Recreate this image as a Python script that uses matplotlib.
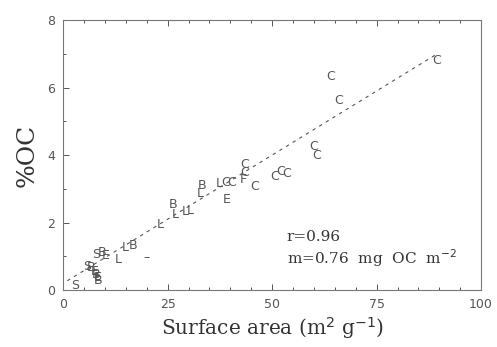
import matplotlib
matplotlib.use("Agg")
import matplotlib.pyplot as plt
import numpy as np

# Surface area (m2/g) vs organic carbon (%), one letter per sample group
S_x = [2.9, 5.8, 8.0]
S_y = [0.15, 0.70, 1.05]
B_x = [6.8, 9.3, 8.0, 8.3, 16.8, 26.4, 33.2]
B_y = [0.68, 1.10, 0.45, 0.28, 1.33, 2.55, 3.10]
E_x = [10.3, 7.5, 8.2, 39.2]
E_y = [1.03, 0.55, 0.36, 2.67]
L_x = [13.2, 14.8, 23.2, 26.8, 29.2, 30.4, 32.8, 37.4]
L_y = [0.90, 1.25, 1.95, 2.25, 2.32, 2.35, 2.85, 3.16]
F_x = [43.1]
F_y = [3.28]
D_x = [20.0]
D_y = [0.97]
C_x = [38.8, 40.3, 43.5, 43.5, 45.9, 50.5, 52.0, 53.5, 59.9, 60.7, 63.9, 65.9, 89.4]
C_y = [3.18, 3.20, 3.72, 3.48, 3.06, 3.38, 3.50, 3.45, 4.25, 4.00, 6.32, 5.63, 6.81]

# fit: r = 0.96, slope 0.76 mg OC per m2 -> 0.076 % per (m2/g)
slope = 0.076
intercept = 0.2
fit_x = np.array([1.0, 89.0])

grey = "#555555"

fig = plt.figure(figsize=(4.97, 3.47), dpi=100)
ax = fig.add_axes([0.127, 0.164, 0.841, 0.778])

# letters as plot symbols, placed in data coordinates
groups = [("S", S_x, S_y), ("B", B_x, B_y), ("E", E_x, E_y), ("L", L_x, L_y),
          ("F", F_x, F_y), ("\u2013", D_x, D_y), ("C", C_x, C_y)]
for letter, xs, ys in groups:
    for x, y in zip(xs, ys):
        ax.text(x, y, letter, ha="center", va="center", fontsize=9,
                color=grey, zorder=3)

ax.plot(fit_x, slope * fit_x + intercept, color=grey, lw=0.8,
        dashes=(3, 4), zorder=2)

ax.set_xlim(0, 100)
ax.set_ylim(0, 8)
ax.set_xticks([0, 25, 50, 75, 100])
ax.set_yticks([0, 2, 4, 6, 8])
ax.set_xticks(np.arange(0, 101, 5), minor=True)
ax.set_yticks(np.arange(0, 9, 1), minor=True)
ax.tick_params(which="both", direction="in", top=True, right=False,
               color=grey, width=0.7)
ax.tick_params(which="major", length=4, labelsize=9, labelcolor="#555555",
               pad=6)
ax.tick_params(which="minor", length=2)
for sp in ax.spines.values():
    sp.set_color("#777777")
    sp.set_linewidth(0.8)

serif = "DejaVu Serif"
ax.set_xlabel(r"Surface area (m$^{2}$ g$^{-1}$)", family=serif,
              fontsize=14.5, color="#333333", labelpad=3)
ax.set_ylabel("%OC", family=serif, fontsize=18, color="#333333",
              labelpad=6)

ax.text(53.5, 1.45, "r=0.96", family=serif, fontsize=11, color="#333333")
ax.text(53.5, 0.78, r"m=0.76  mg  OC  m$^{-2}$", family=serif, fontsize=11,
        color="#333333")

fig.savefig("out.png", dpi=100)
